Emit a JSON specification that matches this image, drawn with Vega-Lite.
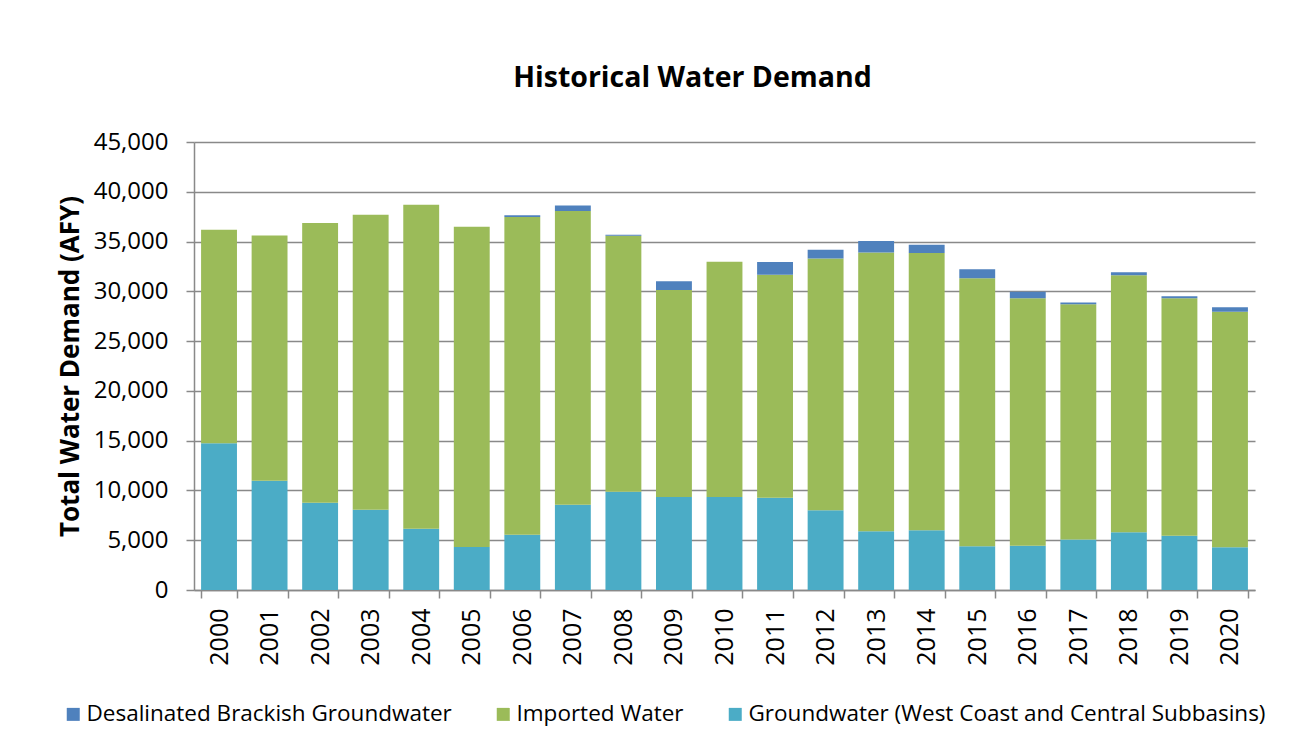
{
  "$schema": "https://vega.github.io/schema/vega-lite/v6.json",
  "autosize": "none",
  "width": 1061,
  "height": 448,
  "padding": {"left": 194, "top": 142, "right": 45, "bottom": 153},
  "background": "white",
  "config": {"view": {"stroke": null}, "font": "Open Sans"},
  "title": {"text": "Historical Water Demand", "font": "Open Sans", "fontSize": 28.5, "fontWeight": "bold", "color": "black", "anchor": "middle", "dx": -32, "offset": 38},
  "data": {"values": [
    {"year": "2000", "source": "Groundwater (West Coast and Central Subbasins)", "value": 14750},
    {"year": "2000", "source": "Imported Water", "value": 21440},
    {"year": "2000", "source": "Desalinated Brackish Groundwater", "value": 0},
    {"year": "2001", "source": "Groundwater (West Coast and Central Subbasins)", "value": 10970},
    {"year": "2001", "source": "Imported Water", "value": 24650},
    {"year": "2001", "source": "Desalinated Brackish Groundwater", "value": 0},
    {"year": "2002", "source": "Groundwater (West Coast and Central Subbasins)", "value": 8770},
    {"year": "2002", "source": "Imported Water", "value": 28090},
    {"year": "2002", "source": "Desalinated Brackish Groundwater", "value": 0},
    {"year": "2003", "source": "Groundwater (West Coast and Central Subbasins)", "value": 8070},
    {"year": "2003", "source": "Imported Water", "value": 29620},
    {"year": "2003", "source": "Desalinated Brackish Groundwater", "value": 0},
    {"year": "2004", "source": "Groundwater (West Coast and Central Subbasins)", "value": 6160},
    {"year": "2004", "source": "Imported Water", "value": 32540},
    {"year": "2004", "source": "Desalinated Brackish Groundwater", "value": 0},
    {"year": "2005", "source": "Groundwater (West Coast and Central Subbasins)", "value": 4320},
    {"year": "2005", "source": "Imported Water", "value": 32170},
    {"year": "2005", "source": "Desalinated Brackish Groundwater", "value": 0},
    {"year": "2006", "source": "Groundwater (West Coast and Central Subbasins)", "value": 5560},
    {"year": "2006", "source": "Imported Water", "value": 31900},
    {"year": "2006", "source": "Desalinated Brackish Groundwater", "value": 170},
    {"year": "2007", "source": "Groundwater (West Coast and Central Subbasins)", "value": 8570},
    {"year": "2007", "source": "Imported Water", "value": 29490},
    {"year": "2007", "source": "Desalinated Brackish Groundwater", "value": 570},
    {"year": "2008", "source": "Groundwater (West Coast and Central Subbasins)", "value": 9870},
    {"year": "2008", "source": "Imported Water", "value": 25720},
    {"year": "2008", "source": "Desalinated Brackish Groundwater", "value": 100},
    {"year": "2009", "source": "Groundwater (West Coast and Central Subbasins)", "value": 9340},
    {"year": "2009", "source": "Imported Water", "value": 20800},
    {"year": "2009", "source": "Desalinated Brackish Groundwater", "value": 870},
    {"year": "2010", "source": "Groundwater (West Coast and Central Subbasins)", "value": 9340},
    {"year": "2010", "source": "Imported Water", "value": 23640},
    {"year": "2010", "source": "Desalinated Brackish Groundwater", "value": 0},
    {"year": "2011", "source": "Groundwater (West Coast and Central Subbasins)", "value": 9270},
    {"year": "2011", "source": "Imported Water", "value": 22400},
    {"year": "2011", "source": "Desalinated Brackish Groundwater", "value": 1270},
    {"year": "2012", "source": "Groundwater (West Coast and Central Subbasins)", "value": 8000},
    {"year": "2012", "source": "Imported Water", "value": 25310},
    {"year": "2012", "source": "Desalinated Brackish Groundwater", "value": 870},
    {"year": "2013", "source": "Groundwater (West Coast and Central Subbasins)", "value": 5890},
    {"year": "2013", "source": "Imported Water", "value": 28020},
    {"year": "2013", "source": "Desalinated Brackish Groundwater", "value": 1140},
    {"year": "2014", "source": "Groundwater (West Coast and Central Subbasins)", "value": 5990},
    {"year": "2014", "source": "Imported Water", "value": 27860},
    {"year": "2014", "source": "Desalinated Brackish Groundwater", "value": 840},
    {"year": "2015", "source": "Groundwater (West Coast and Central Subbasins)", "value": 4390},
    {"year": "2015", "source": "Imported Water", "value": 26920},
    {"year": "2015", "source": "Desalinated Brackish Groundwater", "value": 900},
    {"year": "2016", "source": "Groundwater (West Coast and Central Subbasins)", "value": 4450},
    {"year": "2016", "source": "Imported Water", "value": 24850},
    {"year": "2016", "source": "Desalinated Brackish Groundwater", "value": 670},
    {"year": "2017", "source": "Groundwater (West Coast and Central Subbasins)", "value": 5060},
    {"year": "2017", "source": "Imported Water", "value": 23640},
    {"year": "2017", "source": "Desalinated Brackish Groundwater", "value": 170},
    {"year": "2018", "source": "Groundwater (West Coast and Central Subbasins)", "value": 5790},
    {"year": "2018", "source": "Imported Water", "value": 25820},
    {"year": "2018", "source": "Desalinated Brackish Groundwater", "value": 300},
    {"year": "2019", "source": "Groundwater (West Coast and Central Subbasins)", "value": 5460},
    {"year": "2019", "source": "Imported Water", "value": 23840},
    {"year": "2019", "source": "Desalinated Brackish Groundwater", "value": 200},
    {"year": "2020", "source": "Groundwater (West Coast and Central Subbasins)", "value": 4290},
    {"year": "2020", "source": "Imported Water", "value": 23670},
    {"year": "2020", "source": "Desalinated Brackish Groundwater", "value": 430}
  ]},
  "transform": [
    {"calculate": "indexof(['Groundwater (West Coast and Central Subbasins)', 'Imported Water', 'Desalinated Brackish Groundwater'], datum.source)", "as": "stackOrder"}
  ],
  "mark": {"type": "bar"},
  "encoding": {
    "x": {
      "field": "year", "type": "ordinal",
      "scale": {"paddingInner": 0.29, "paddingOuter": 0.14},
      "axis": {
        "title": null, "tickBand": "extent", "labelAngle": 270,
        "labelFontSize": 25, "labelFont": "Open Sans", "labelColor": "black", "labelPadding": 10,
        "domainColor": "#898989", "domainWidth": 1.5, "tickColor": "#898989", "tickWidth": 1.5, "tickSize": 8, "grid": false
      }
    },
    "y": {
      "field": "value", "type": "quantitative", "stack": "zero",
      "scale": {"domain": [0, 45000], "nice": false},
      "axis": {
        "title": "Total Water Demand (AFY)", "titleFontSize": 26, "titleFont": "Open Sans", "titleFontWeight": "bold", "titleColor": "black", "titlePadding": 10,
        "values": [0, 5000, 10000, 15000, 20000, 25000, 30000, 35000, 40000, 45000], "format": ",.0f",
        "labelFontSize": 24, "labelFont": "Open Sans", "labelColor": "black", "labelPadding": 18,
        "grid": true, "gridColor": "#898989", "gridWidth": 1.5,
        "domainColor": "#898989", "domainWidth": 1.5, "tickColor": "#898989", "tickWidth": 1.5, "tickSize": 8
      }
    },
    "color": {
      "field": "source", "type": "nominal",
      "scale": {"domain": ["Desalinated Brackish Groundwater", "Imported Water", "Groundwater (West Coast and Central Subbasins)"], "range": ["#4F81BD", "#9BBB59", "#4BACC6"]},
      "legend": {
        "title": null, "orient": "none", "legendX": -132, "legendY": 561, "direction": "horizontal", "columns": 3,
        "symbolType": "square", "symbolSize": 169, "symbolStrokeWidth": 0,
        "labelFontSize": 22.5, "labelFont": "Open Sans", "labelColor": "black", "labelOffset": 2, "columnPadding": 40, "labelLimit": 900
      }
    },
    "order": {"field": "stackOrder", "type": "quantitative", "sort": "ascending"}
  }
}
